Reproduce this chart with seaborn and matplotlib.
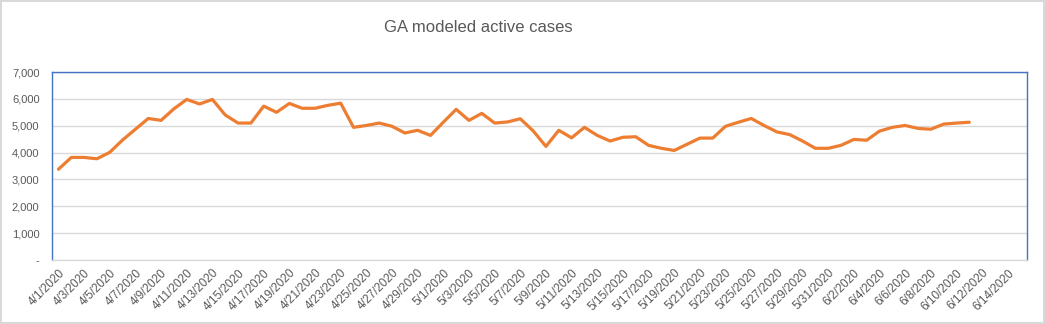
import matplotlib
matplotlib.use("Agg")
import matplotlib.pyplot as plt
import seaborn as sns
import pandas as pd
import numpy as np
from matplotlib.ticker import FuncFormatter, MultipleLocator

# ---- data ----
dates = pd.date_range("2020-04-01", "2020-06-15", freq="D")
date_labels = [f"{d.month}/{d.day}/{d.year}" for d in dates]
active_cases = [
    3380, 3820, 3820, 3770, 4010, 4470, 4870, 5270, 5200, 5630,
    5980, 5810, 5980, 5400, 5100, 5100, 5730, 5500, 5830, 5650,
    5650, 5760, 5840, 4940, 5010, 5100, 4980, 4730, 4830, 4640,
    5130, 5610, 5200, 5460, 5100, 5140, 5260, 4810, 4230, 4830,
    4550, 4940, 4640, 4430, 4570, 4590, 4270, 4160, 4080, 4310,
    4540, 4540, 4980, 5130, 5270, 5010, 4770, 4670, 4430, 4160,
    4160, 4270, 4490, 4460, 4800, 4940, 5010, 4900, 4870, 5060,
    5100, 5130,
]
title = "GA modeled active cases"

df = pd.DataFrame({"pos": np.arange(len(active_cases)), "cases": active_cases})

sns.set_theme(style="white")
plt.rcParams["font.family"] = ["Liberation Sans", "DejaVu Sans"]

fig = plt.figure(figsize=(10.45, 3.24), dpi=100)
fig.patch.set_facecolor("white")
fig.patch.set_edgecolor("#D9D9D9")
fig.patch.set_linewidth(1.5)
ax = fig.add_axes([0.0498, 0.1975, 0.9330, 0.5802])

sns.lineplot(data=df, x="pos", y="cases", ax=ax, color="#ED7D31", linewidth=2.3)

ax.set_xlim(-0.5, len(dates) - 0.5)
ax.set_ylim(0, 7000)
ax.yaxis.set_major_locator(MultipleLocator(1000))
ax.yaxis.set_major_formatter(FuncFormatter(lambda v, p: "-" if v == 0 else f"{int(v):,}"))
ax.grid(axis="y", color="#D9D9D9", linewidth=1)
ax.set_axisbelow(True)

tick_pos = np.arange(0, len(dates), 2)
ax.set_xticks(tick_pos)
ax.set_xticklabels([date_labels[i] for i in tick_pos], rotation=45, ha="right",
                   rotation_mode="anchor", fontsize=8.5, color="#595959")
ax.tick_params(axis="y", labelsize=8, labelcolor="#595959", length=0, pad=9)
ax.tick_params(axis="x", length=0, pad=5)
ax.set_xlabel("")
ax.set_ylabel("")

for s in ["left", "top", "right"]:
    ax.spines[s].set_color("#4472C4")
    ax.spines[s].set_linewidth(1)
ax.spines["bottom"].set_color("#D9D9D9")
ax.spines["bottom"].set_linewidth(1)

fig.text(0.4575, 0.915, title, ha="center", va="center", fontsize=12, color="#595959")

fig.savefig("out.png", dpi=100, facecolor=fig.get_facecolor(), edgecolor=fig.get_edgecolor())
